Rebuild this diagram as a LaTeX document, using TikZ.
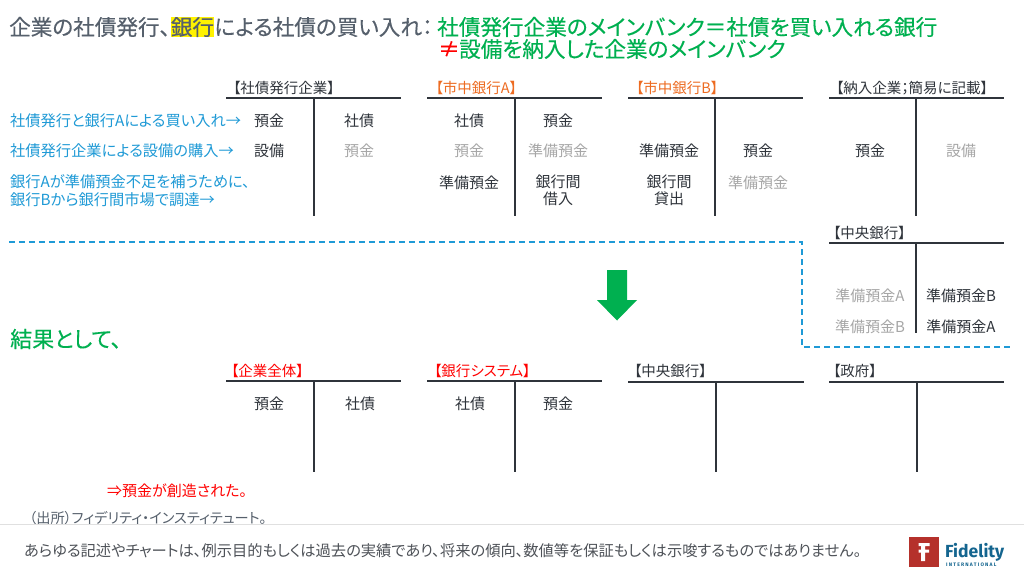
\documentclass[tikz,border=0pt]{standalone}
\usepackage{fontspec}
\setmainfont[RawFeature={+palt}]{Noto Sans CJK JP}
\newfontfamily\titlefont[RawFeature={+palt},FakeBold=0.25]{Noto Sans CJK JP}
\newfontfamily\logofont{Fira Sans}
\definecolor{ink}{HTML}{2F343B}
\definecolor{titlegray}{HTML}{56606C}
\definecolor{mute}{HTML}{A6A6A6}
\definecolor{skyb}{HTML}{1F9AD6}
\definecolor{grn}{HTML}{00B050}
\definecolor{orng}{HTML}{ED6B21}
\definecolor{logored}{HTML}{B5312B}
\definecolor{logoblue}{HTML}{14658F}
\tikzset{
  x=1pt,y=-1pt,
  lab/.style={font=\fontsize{15}{17}\selectfont,text=ink,inner sep=0,align=center,anchor=center,yshift=-0.6pt},
  off/.style={lab,text=mute},
  note/.style={font=\fontsize{15.25}{17.5}\selectfont,text=skyb,inner sep=0,anchor=west,align=left,yshift=-0.6pt},
  head/.style={font=\fontsize{14.5}{17}\selectfont,text=ink,inner sep=0,anchor=south west},
  title/.style={font=\titlefont\fontsize{21.6}{23}\selectfont,inner sep=0,anchor=west},
  rule/.style={draw=ink,line width=2pt},
  dashline/.style={draw=skyb,line width=1.3pt,dash pattern=on 6pt off 4pt},
}
\newcommand{\taccount}[5]{% name, left, right, spine x, y top
  \coordinate (#1L) at (#2,#5);
  \coordinate (#1R) at (#3,#5);
  \coordinate (#1T) at (#4,#5);
}
\begin{document}
\begin{tikzpicture}
\useasboundingbox[fill=white] (0,0) rectangle (1024,576);

% Title
\node[title,text=titlegray] (t1) at (9,27) {企業の社債発行、};
\node[title,anchor=west,fill=yellow,text=titlegray,inner xsep=0,inner ysep=0.5pt] (t2) at (t1.east) {銀行};
\node[title,text=titlegray] (t3) at (t2.east) {による社債の買い入れ：};
\node[title,text=grn] (t4) at (437,27) {社債発行企業のメインバンク＝社債を買い入れる銀行};
\node[title,text=red] (t5) at (438,49) {≠};
\node[title,text=grn] (t6) at (459,49) {設備を納入した企業のメインバンク};

% T accounts
\taccount{a}{226}{401}{314}{98}
\coordinate (aB) at (314,216);
\taccount{b}{427}{602}{515}{98}
\coordinate (bB) at (515,216);
\taccount{c}{628}{803}{715}{98}
\coordinate (cB) at (715,216);
\taccount{d}{829}{1004}{916}{98}
\coordinate (dB) at (916,216);
\taccount{e}{829}{1004}{916}{243}
\coordinate (eB) at (916,333);
\taccount{f}{226}{401}{314}{381}
\coordinate (fB) at (314,472);
\taccount{g}{427}{602}{515}{381}
\coordinate (gB) at (515,472);
\taccount{h}{628}{804}{716}{382}
\coordinate (hB) at (716,472);
\taccount{i}{829}{1004}{917}{382}
\coordinate (iB) at (917,472);
\foreach \n in {a,b,c,d,e,f,g,h,i}{
  \draw[rule] (\n L) -- (\n R);
  \draw[rule] (\n T) -- (\n B);
}

% Headings
\node[head] (ha) at (233,95) {【社債発行企業】};
\node[head,text=orng] (hb) at (435.5,95) {【市中銀行A】};
\node[head,text=orng] (hc) at (636,95) {【市中銀行B】};
\node[head] (hd) at (836,95) {【納入企業；簡易に記載】};
\node[head] (he) at (833,240) {【中央銀行】};
\node[head,text=red] (hf) at (231,378) {【企業全体】};
\node[head,text=red] (hg) at (434,378) {【銀行システム】};
\node[head] (hh) at (634,378) {【中央銀行】};
\node[head] (hi) at (833,378) {【政府】};

% Row notes
\node[note] (n1) at (10,120) {社債発行と銀行Aによる買い入れ→};
\node[note] (n2) at (10,150) {社債発行企業による設備の購入→};
\node[note] (n3) at (10,190) {銀行Aが準備預金不足を補うために、\\銀行Bから銀行間市場で調達→};

% Entries
\node[lab] (a1) at (269,120) {預金};
\node[lab] (a2) at (359,120) {社債};
\node[lab] (a3) at (269,150) {設備};
\node[off] (a4) at (359,150) {預金};
\node[lab] (b1) at (469,120) {社債};
\node[lab] (b2) at (558,120) {預金};
\node[off] (b3) at (469,150) {預金};
\node[off] (b4) at (558,150) {準備預金};
\node[lab] (b5) at (469,182) {準備預金};
\node[lab] (b6) at (558,190) {銀行間\\借入};
\node[lab] (c1) at (669,150) {準備預金};
\node[lab] (c2) at (758,150) {預金};
\node[lab] (c3) at (669,190) {銀行間\\貸出};
\node[off] (c4) at (758,182) {準備預金};
\node[lab] (d1) at (870,150) {預金};
\node[off] (d2) at (961,150) {設備};
\node[off] (e1) at (870,295) {準備預金A};
\node[lab] (e2) at (961,295) {準備預金B};
\node[off] (e3) at (870,326) {準備預金B};
\node[lab] (e4) at (961,326) {準備預金A};
\node[lab] (f1) at (269,403) {預金};
\node[lab] (f2) at (360,403) {社債};
\node[lab] (g1) at (470,403) {社債};
\node[lab] (g2) at (558,403) {預金};

% Dashed boundary
\coordinate (dA) at (9,242);
\coordinate (dB2) at (802,242);
\coordinate (dC) at (802,347);
\coordinate (dD) at (1012,347);
\draw[dashline] (dA) -- (dB2) -- (dC) -- (dD);

% Green arrow
\fill[grn] (607,270) -- (627,270) -- (627,300) -- (637,300) -- (617,320.5) -- (597,300) -- (607,300) -- cycle;

\node[font=\titlefont\fontsize{22}{23}\selectfont,text=grn,inner sep=0,anchor=west] (res) at (10,339) {結果として、};
\node[font=\fontsize{15}{17}\selectfont,text=red,inner sep=0,anchor=west] (cre) at (107,491) {⇒預金が創造された。};
\node[font=\fontsize{14.2}{15}\selectfont,text=titlegray,inner sep=0,anchor=west] (src) at (29,518) {（出所）フィデリティ・インスティテュート。};

% Footer
\fill[white] (0,525) rectangle (1024,576);
\coordinate (fl) at (0,524.5);
\coordinate (fr) at (1024,524.5);
\draw[draw=black!12,line width=0.8pt] (fl) -- (fr);
\node[font=\fontsize{15.27}{17}\selectfont,text=ink!85,inner sep=0,anchor=west] (foot) at (24,551) {あらゆる記述やチャートは、例示目的もしくは過去の実績であり、将来の傾向、数値等を保証もしくは示唆するものではありません。};

% Logo
\fill[logored] (909,537) rectangle (939,567);
\fill[white] (918.5,543) rectangle (929.5,546) (918.5,549.5) rectangle (929,552.5) (921,543) rectangle (925,561);
\node[font=\logofont\bfseries\fontsize{17.5}{18}\selectfont,text=logoblue,inner sep=0,anchor=west] (logo) at (945,552) {Fidelity};
\node[font=\logofont\bfseries\fontsize{5}{5}\selectfont,text=logoblue,inner sep=0,anchor=west] (logo2) at (946,564.5) {I N T E R N A T I O N A L};
\end{tikzpicture}
\end{document}
